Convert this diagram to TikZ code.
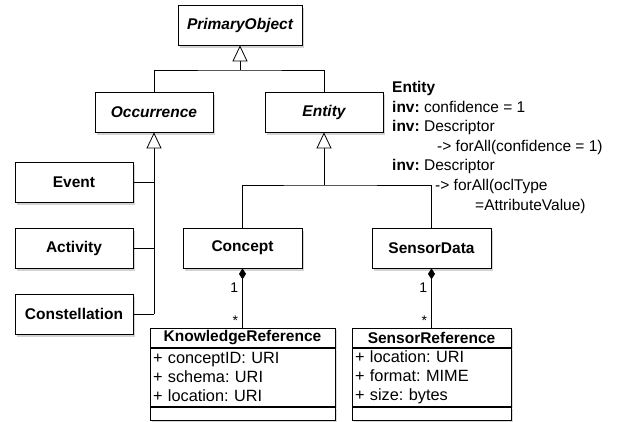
\documentclass[tikz,border=0pt]{standalone}
\usepackage{fontspec}
\setmainfont{Liberation Sans}
\frenchspacing
\usetikzlibrary{arrows.meta,shadows}

\begin{document}
\begin{tikzpicture}[x=1pt,y=-1pt,
    class/.style={draw,fill=white,line width=0.8pt,minimum width=118pt,minimum height=40pt,
      inner sep=2pt,font=\fontsize{15.5}{19}\selectfont\bfseries,
      drop shadow={shadow xshift=1.5pt,shadow yshift=-2.5pt,opacity=0.35}},
    abstract/.style={class,font=\fontsize{15.5}{19}\selectfont\bfseries\itshape},
    umlhead/.style={draw,fill=white,line width=0.8pt,minimum height=19pt,inner sep=0pt,
      font=\fontsize{15.5}{19}\selectfont\bfseries,
      drop shadow={shadow xshift=1.5pt,shadow yshift=-2pt,opacity=0.3}},
    umlattr/.style={draw,fill=white,line width=0.8pt,minimum height=58pt,inner xsep=3pt,inner ysep=1.5pt,
      align=left,font=\fontsize{16.3}{19}\selectfont,
      drop shadow={shadow xshift=1.5pt,shadow yshift=-2pt,opacity=0.3}},
    umlops/.style={draw,fill=white,line width=0.8pt,minimum height=13pt,inner sep=0pt,
      drop shadow={shadow xshift=1.5pt,shadow yshift=-2pt,opacity=0.3}},
    gen/.style={-{Triangle[open,length=16pt,width=15pt,fill=white]},line width=0.8pt},
    comp/.style={-{Diamond[length=11pt,width=7pt]},line width=0.8pt},
    link/.style={line width=0.8pt},
    mult/.style={font=\fontsize{14}{16}\selectfont,inner sep=1pt}]
  \useasboundingbox (0,0) rectangle (629,421);

  % classes
  \node[abstract,minimum width=124pt] (primary) at (240,25) {PrimaryObject};
  \node[abstract] (occ) at (154,112) {Occurrence};
  \node[abstract] (ent) at (324,112) {Entity};
  \node[class] (event) at (74,182) {Event};
  \node[class] (activity) at (74,248) {Activity};
  \node[class] (constel) at (74,314) {Constellation};
  \node[class,minimum width=119pt] (concept) at (242.5,248) {Concept};
  \node[class,minimum width=119pt] (sensor) at (431.5,248) {SensorData};

  % generalisations
  \coordinate (jtop) at (240,70);
  \draw[link] (occ.north) |- (jtop) -| (ent.north);
  \draw[gen] (jtop) -- (primary.south);

  \coordinate (jocc) at (154,314);
  \draw[link] (event.east) -- (event.east -| jocc);
  \draw[link] (activity.east) -- (activity.east -| jocc);
  \draw[link] (constel.east) -- (jocc);
  \draw[gen] (jocc) -- (occ.south);

  \coordinate (jent) at (324,185);
  \draw[link] (concept.north) |- (jent) -| (sensor.north);
  \draw[gen] (jent) -- (ent.south);

  % reference classes
  \node[umlhead,minimum width=185pt,anchor=north] (kref) at (242.5,328) {KnowledgeReference};
  \node[umlattr,text width=179pt,anchor=north] (kref attrs) at (kref.south)
    {+ conceptID: URI\\+ schema: URI\\+ location: URI};
  \node[umlops,minimum width=185pt,anchor=north] (kref ops) at (kref attrs.south) {};

  \node[umlhead,minimum width=159pt,anchor=north] (sref) at (431.5,328) {SensorReference};
  \node[umlattr,text width=153pt,anchor=north] (sref attrs) at (sref.south)
    {+ location: URI\\+ format: MIME\\+ size: bytes};
  \node[umlops,minimum width=159pt,anchor=north] (sref ops) at (sref attrs.south) {};

  % compositions
  \draw[comp] (kref.north) -- (concept.south)
    node[mult,pos=0.68,left=3pt] {1} node[mult,pos=0.12,left=3pt] {*};
  \draw[comp] (sref.north) -- (sensor.south)
    node[mult,pos=0.68,left=3pt] {1} node[mult,pos=0.12,left=3pt] {*};

  % constraints
  \node[anchor=north west,inner sep=0pt,align=left,font=\fontsize{15.5}{19.6}\selectfont] (inv) at (392,81)
    {\textbf{Entity}\\
     \textbf{inv:} confidence = 1\\
     \textbf{inv:} Descriptor\\
     \hspace*{45pt}-> forAll(confidence = 1)\\
     \textbf{inv:} Descriptor\\
     \hspace*{43pt}-> forAll(oclType\\
     \hspace*{83pt}=AttributeValue)};
\end{tikzpicture}
\end{document}
